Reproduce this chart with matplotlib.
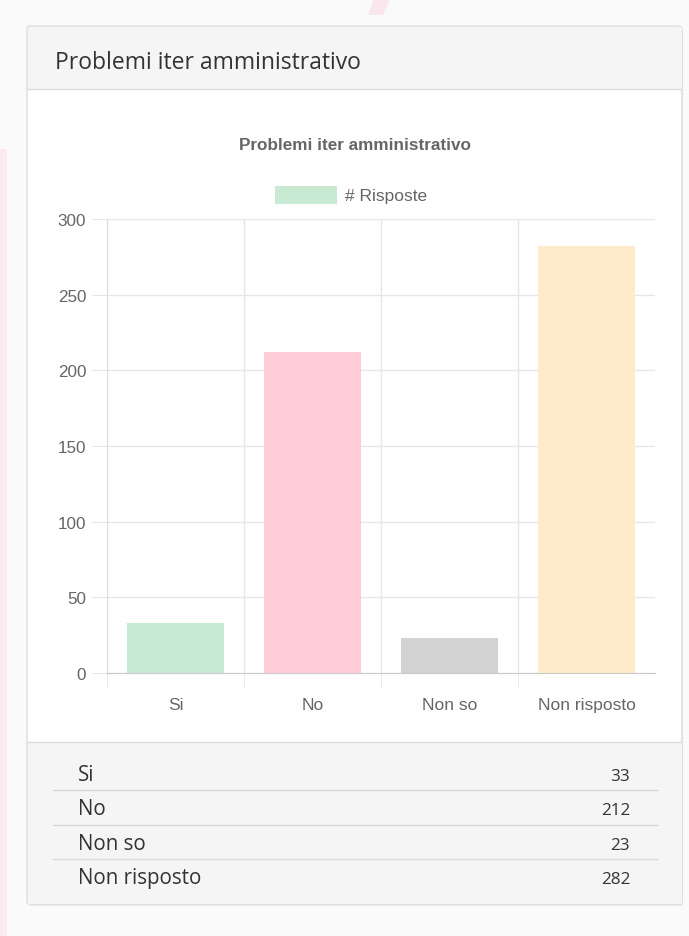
import matplotlib
matplotlib.use("Agg")
import matplotlib.pyplot as plt
from matplotlib.patches import Rectangle, FancyBboxPatch, Polygon

W, H = 689, 937

# data
categories = ["Si", "No", "Non so", "Non risposto"]
risposte = [33, 212, 23, 282]
bar_colors = ["#c8ead3", "#ffcdd9", "#d3d3d3", "#ffebc9"]
y_ticks = [0, 50, 100, 150, 200, 250, 300]
title = "Problemi iter amministrativo"
legend_label = "# Risposte"

PAGE, CARD_GRAY, BORDER = "#fafafa", "#f5f5f5", "#dcdcdc"
INK, CHART_INK, GRID = "#333333", "#666666", "#e6e6e6"
UI_FONT = "Open Sans"
CHART_FONT = "Liberation Sans"

fig = plt.figure(figsize=(W / 100, H / 100), dpi=100, facecolor=PAGE)

# background layer in pixel coordinates
bg = fig.add_axes([0, 0, 1, 1])
bg.set_xlim(0, W)
bg.set_ylim(H, 0)
bg.axis("off")

# faint watermark bits around the card
bg.add_patch(Rectangle((0, 150), 7, H - 150, color="#f9ebef", lw=0))
bg.add_patch(Polygon([(374, 0), (390, 0), (383, 16), (368, 16)],
                     closed=True, color="#fbe6ec", lw=0))

# card: shadow, body, header, footer
x0, x1, y0, y1 = 27, 682, 27, 905
bg.add_patch(FancyBboxPatch((x0 + 1, y0 + 2), x1 - x0, y1 - y0,
                            boxstyle="round,pad=0,rounding_size=3",
                            fc="#e6e6e6", ec="none", lw=0))
bg.add_patch(FancyBboxPatch((x0, y0), x1 - x0, y1 - y0,
                            boxstyle="round,pad=0,rounding_size=3",
                            fc="white", ec=BORDER, lw=1))
bg.add_patch(Rectangle((x0 + 0.5, y0 + 0.5), x1 - x0 - 1, 90 - y0,
                       fc=CARD_GRAY, ec="none"))
bg.plot([x0, x1], [90, 90], color=BORDER, lw=1)
bg.add_patch(Rectangle((x0 + 0.5, 743), x1 - x0 - 1, y1 - 743 - 0.5,
                       fc=CARD_GRAY, ec="none"))
bg.plot([x0, x1], [743, 743], color=BORDER, lw=1)

bg.text(55, 69, title, family=UI_FONT, fontsize=16.5, color=INK,
        va="baseline", ha="left")

# chart title + legend
bg.text(354.5, 145, title, family=CHART_FONT, fontsize=12.3,
        fontweight="bold", color=CHART_INK, ha="center", va="center")
bg.add_patch(Rectangle((275, 187), 62, 18, fc=bar_colors[0], ec="none"))
bg.text(345, 196, legend_label, family=CHART_FONT, fontsize=12.5,
        color=CHART_INK, ha="left", va="center")

# summary table
baselines = [781, 815, 850, 884]
for i, (cat, val) in enumerate(zip(categories, risposte)):
    bg.text(78, baselines[i], cat, family=UI_FONT, fontsize=14.8, color=INK,
            va="baseline", ha="left")
    bg.text(630, baselines[i], str(val), family=UI_FONT, fontsize=12.3,
            color=INK, va="baseline", ha="right")
for y in (791, 826, 860):
    bg.plot([53, 657], [y, y], color="#d8d8d8", lw=1)

# bar chart
ax_l, ax_r, ax_t, ax_b = 107, 655, 220, 674
ax = fig.add_axes([ax_l / W, 1 - ax_b / H, (ax_r - ax_l) / W, (ax_b - ax_t) / H])
ax.patch.set_alpha(0)
xs = list(range(len(categories)))
ax.bar(xs, risposte, width=0.715, color=bar_colors, zorder=2)
ax.set_xlim(-0.5, len(categories) - 0.5)
ax.set_ylim(0, 300)
ax.set_yticks(y_ticks)
ax.set_xticks(xs)
ax.set_xticklabels(categories)
ax.set_xticks([i - 0.5 for i in xs], minor=True)

for s in ("top", "right"):
    ax.spines[s].set_visible(False)
ax.spines["left"].set_color("#dddddd")
ax.spines["bottom"].set_color("#c9c9c9")
ax.grid(axis="y", color=GRID, lw=1, zorder=0)
ax.grid(axis="x", which="minor", color=GRID, lw=1, zorder=0)
ax.set_axisbelow(True)

ax.tick_params(axis="y", length=11, color=GRID, pad=4, labelsize=12.3,
               labelcolor=CHART_INK)
ax.tick_params(axis="x", which="major", length=0, pad=17, labelsize=12.5,
               labelcolor=CHART_INK)
ax.tick_params(axis="x", which="minor", length=11, color=GRID)
for lab in ax.get_xticklabels() + ax.get_yticklabels():
    lab.set_family(CHART_FONT)

fig.savefig("out.png", dpi=100, facecolor=PAGE)
